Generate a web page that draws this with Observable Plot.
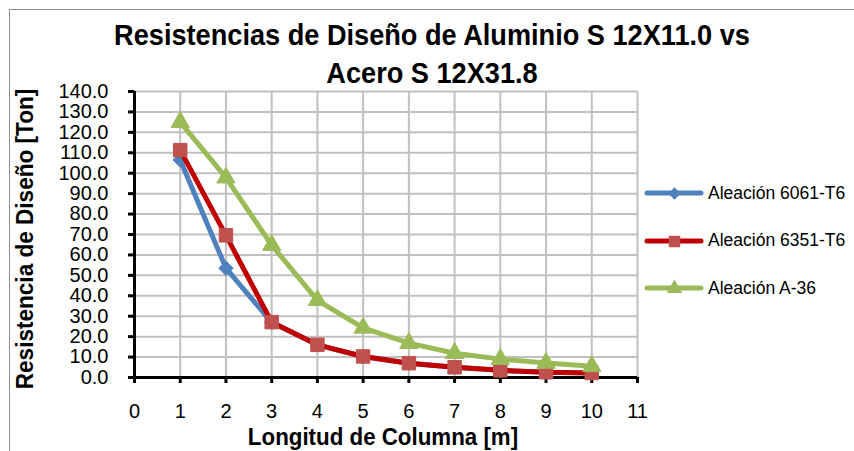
<!DOCTYPE html>
<html>
<head>
<meta charset="utf-8">
<script src="https://cdn.jsdelivr.net/npm/d3@7"></script>
<script src="https://cdn.jsdelivr.net/npm/@observablehq/plot@0.6"></script>
<style>
  html, body { margin: 0; padding: 0; background: #fff; }
  #wrap { position: relative; width: 854px; height: 451px; overflow: hidden; font-family: "Liberation Sans", Arial, sans-serif; }
  #frame { position: absolute; left: 9px; top: 9px; width: 900px; height: 500px; border: 1px solid #8c8c8c; box-sizing: border-box; }
  .narrowb { font-family: "Liberation Sans", Arial, sans-serif; font-weight: bold; color: #000; white-space: nowrap; }
  .tline { position: absolute; left: 432px; font-size: 30px; line-height: 30px; transform: translateX(-50%) scaleX(0.905); }
  #ylab { position: absolute; left: 25px; top: 239px; font-size: 24px; transform: translate(-50%, -50%) rotate(-90deg) scaleX(0.94); }
  #xlab { position: absolute; left: 383px; top: 437px; font-size: 24px; transform: translate(-50%, -50%) scaleX(0.93); }
  #legend { position: absolute; left: 645px; top: 181px; }
  .item { display: flex; align-items: center; height: 24px; margin-bottom: 23.5px; font-size: 17.5px; color: #000; }
  .item svg { margin-right: 5px; }
  #chart { position: absolute; left: 0; top: 0; }
</style>
</head>
<body>
<div id="wrap">
  <div id="frame"></div>
  <div id="chart"></div>
  <div class="tline narrowb" style="top:20px">Resistencias de Diseño de Aluminio S 12X11.0 vs</div>
  <div class="tline narrowb" style="top:58px">Acero S 12X31.8</div>
  <div id="ylab" class="narrowb">Resistencia de Diseño [Ton]</div>
  <div id="xlab" class="narrowb">Longitud de Columna [m]</div>
  <div id="legend"></div>
</div>
<script>
const longitudes = [1, 2, 3, 4, 5, 6, 7, 8, 9, 10];
const aleacion6061 = [106.5, 53.5, 27.0, 16.0, 10.3, 7.0, 5.0, 3.5, 2.6, 2.2];
const aleacion6351 = [111.3, 69.6, 27.1, 16.0, 10.3, 7.0, 5.0, 3.5, 2.6, 2.2];
const aleacionA36  = [125.0, 97.8, 64.8, 37.8, 24.3, 16.8, 11.9, 9.0, 7.1, 5.5];
const seriesNames = ["Aleación 6061-T6", "Aleación 6351-T6", "Aleación A-36"];
const xTicks = [0, 1, 2, 3, 4, 5, 6, 7, 8, 9, 10, 11];
const yTicks = [0, 10, 20, 30, 40, 50, 60, 70, 80, 90, 100, 110, 120, 130, 140];

const styles = [
  {line: "#4F81BD", fill: "#4F81BD", symbol: "diamond2", r: 6.5},
  {line: "#C00000", fill: "#C0504D", symbol: "square", r: 7.6},
  {line: "#9BBB59", fill: "#9BBB59", symbol: "triangle", r: 6.8}
];
const values = [aleacion6061, aleacion6351, aleacionA36];
const data = values.map((vals, i) => longitudes.map((x, j) => ({x, y: vals[j], s: seriesNames[i]})));

const marks = [
  Plot.gridX(xTicks, {stroke: "#c0c0c0", strokeOpacity: 1, strokeWidth: 2}),
  Plot.gridY(yTicks, {stroke: "#c0c0c0", strokeOpacity: 1, strokeWidth: 2}),
  Plot.axisX(xTicks, {tickSize: 6, stroke: "#000", strokeWidth: 3, tickPadding: 20, fontSize: 20, fill: "#000", label: null, fontFamily: "Liberation Sans"}),
  Plot.axisY(yTicks, {tickSize: 6, stroke: "#000", strokeWidth: 3, tickPadding: 20, fontSize: 20, fill: "#000", label: null, tickFormat: d3.format(".1f"), fontFamily: "Liberation Sans"}),
  Plot.ruleX([0], {stroke: "#000", strokeWidth: 3}),
  Plot.ruleY([0], {stroke: "#000", strokeWidth: 3})
];
data.forEach((d, i) => {
  const st = styles[i];
  marks.push(Plot.line(d, {x: "x", y: "y", stroke: st.line, strokeWidth: 5, strokeLinejoin: "round", strokeLinecap: "round"}));
  marks.push(Plot.dot(d, {x: "x", y: "y", symbol: st.symbol, r: st.r, fill: st.fill, stroke: st.fill, strokeWidth: 1}));
});

const plot = Plot.plot({
  width: 854,
  height: 451,
  marginLeft: 134,
  marginRight: 217,
  marginTop: 91,
  marginBottom: 74,
  x: {domain: [0, 11]},
  y: {domain: [0, 140]},
  style: {background: "transparent", overflow: "visible"},
  marks
});
document.getElementById("chart").appendChild(plot);

// Legend
const legend = document.getElementById("legend");
seriesNames.forEach((name, i) => {
  const st = styles[i];
  const item = document.createElement("div");
  item.className = "item";
  const sym = Plot.dot([0], {x: () => 29, y: () => 12, symbol: st.symbol, r: st.r * 0.85, fill: st.fill}).plot({
    width: 58, height: 24, margin: 0, x: {type: "identity"}, y: {type: "identity"}, axis: null,
    style: {background: "transparent", overflow: "visible"}
  });
  const svg = d3.create("svg").attr("width", 58).attr("height", 24).style("overflow", "visible");
  svg.append("line").attr("x1", 2).attr("x2", 56).attr("y1", 12).attr("y2", 12)
    .attr("stroke", st.line).attr("stroke-width", 5).attr("stroke-linecap", "round");
  svg.node().appendChild(sym.querySelector("g[aria-label=dot]") || sym);
  item.appendChild(svg.node());
  const t = document.createElement("span");
  t.textContent = name;
  item.appendChild(t);
  legend.appendChild(item);
});
</script>
</body>
</html>
